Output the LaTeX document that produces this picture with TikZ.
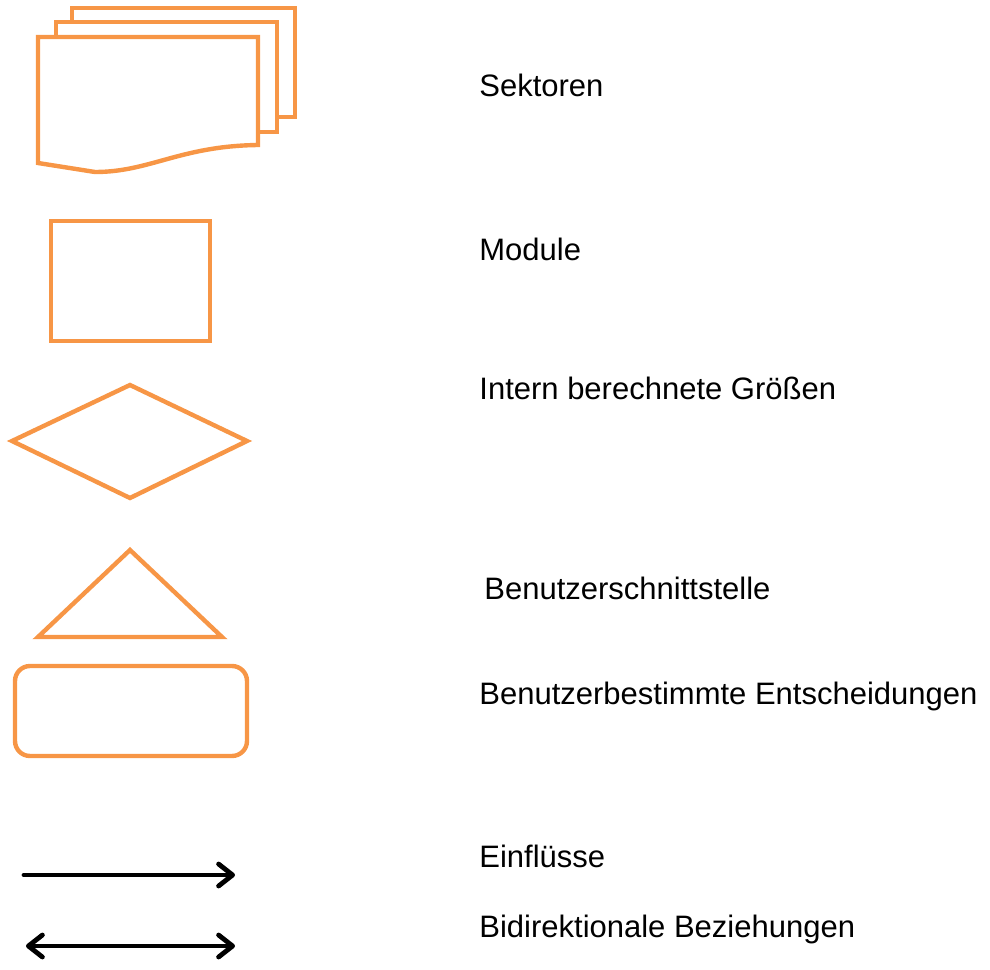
\documentclass[tikz,border=0pt]{standalone}
\usepackage{fontspec}
\setmainfont{Liberation Sans}
\usetikzlibrary{arrows.meta}
\definecolor{shapeorange}{HTML}{F79646}
\tikzset{
  legendshape/.style={draw=shapeorange, line width=2.2pt, line join=miter},
  barb/.tip={Straight Barb[length=7pt, width=11pt, line cap=round, line join=round]},
  legendarrow/.style={draw=black, line width=2.4pt, line cap=round},
  legendtext/.style={anchor=base west, inner sep=0pt, font=\fontsize{15.5pt}{18pt}\selectfont}
}
\begin{document}
\begin{tikzpicture}[x=0.5pt, y=-0.5pt]
  \useasboundingbox (0,0) rectangle (990,969);

  % stacked documents (sectors)
  \draw[legendshape] (72,22) -- (72,8) -- (295,8) -- (295,117) -- (277,117);
  \draw[legendshape] (56,37) -- (56,22) -- (277,22) -- (277,132) -- (258,132);
  \draw[legendshape] (38,37) -- (258,37) -- (258,145)
    .. controls (180,146) and (150,172) .. (95,172)
    -- (38,163) -- cycle;

  % module
  \draw[legendshape] (51,221) rectangle (210,341);

  % internally computed quantity
  \draw[legendshape] (12,441) -- (130,385) -- (247,441) -- (130,498) -- cycle;

  % user interface
  \draw[legendshape] (130,550) -- (222,637) -- (38,637) -- cycle;

  % user decision
  \draw[legendshape, rounded corners=7.5pt] (15,666) rectangle (247,756);

  % connectors
  \coordinate (inA) at (24,875);
  \coordinate (inB) at (235,875);
  \coordinate (biA) at (26,946);
  \coordinate (biB) at (235,946);
  \draw[legendarrow, -barb] (inA) -- (inB);
  \draw[legendarrow, barb-barb] (biA) -- (biB);

  % labels
  \node[legendtext] (tsek) at (479,96) {Sektoren};
  \node[legendtext] (tmod) at (479,260) {Module};
  \node[legendtext] (tint) at (479,399) {Intern berechnete Größen};
  \node[legendtext] (tui) at (484,599) {Benutzerschnittstelle};
  \node[legendtext] (tdec) at (479,704) {Benutzerbestimmte Entscheidungen};
  \node[legendtext] (tinf) at (479,867) {Einflüsse};
  \node[legendtext] (tbi) at (479,937) {Bidirektionale Beziehungen};
\end{tikzpicture}
\end{document}
